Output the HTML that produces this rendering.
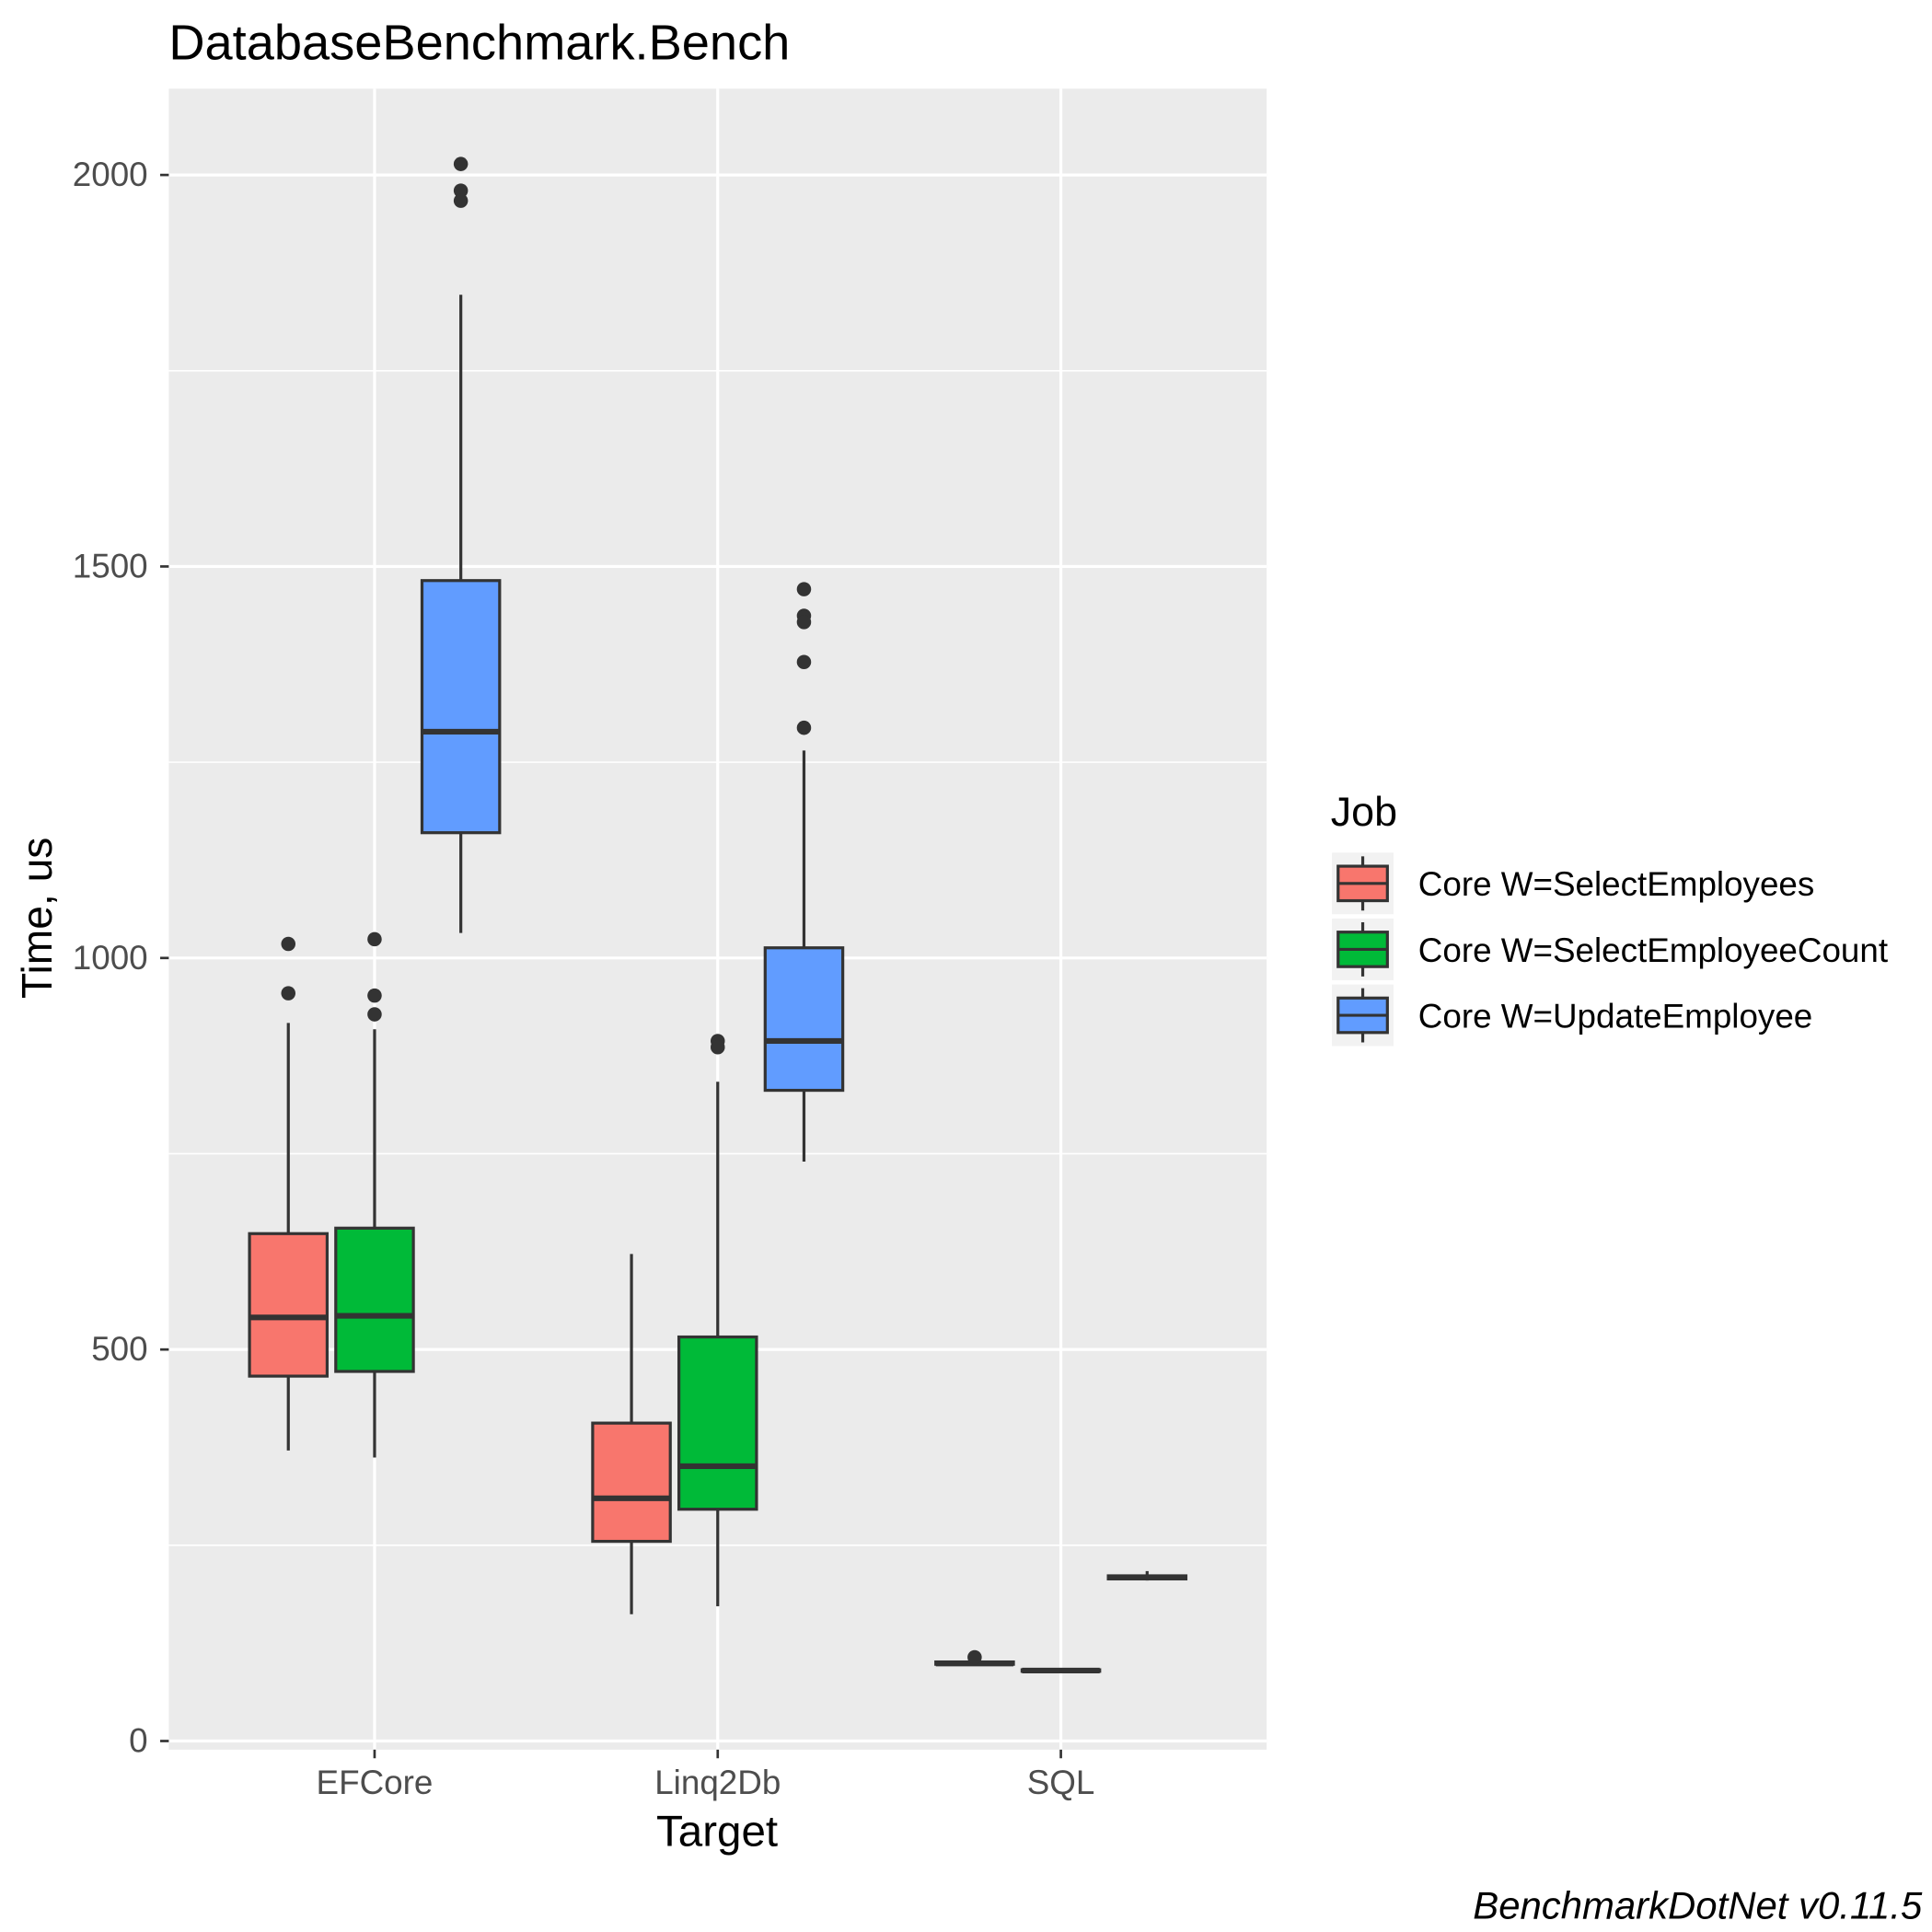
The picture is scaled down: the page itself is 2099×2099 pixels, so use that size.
<!DOCTYPE html>
<html><head><meta charset="utf-8"><style>
html,body{margin:0;padding:0;background:#fff;}
svg{display:block;font-family:"Liberation Sans",Arial,sans-serif;}
</style></head><body>
<svg id="chart" width="2099" height="2099" viewBox="0 0 1568 1568" xmlns="http://www.w3.org/2000/svg">
<rect x="0" y="0" width="1568" height="1568" fill="#fff"/>
<text x="137" y="48" font-size="40.5" fill="#000">DatabaseBenchmark.Bench</text>
<rect x="137" y="72" width="891" height="1348" fill="#EBEBEB"/>
<g id="grid"></g>
<g id="boxes"></g>
<g id="axes"></g>
<text x="582" y="1498" font-size="35.5" text-anchor="middle" fill="#000">Target</text>
<text transform="translate(42,745) rotate(-90)" font-size="34.5" text-anchor="middle" fill="#000">Time, us</text>
<g id="legend">
<text x="1080" y="670" font-size="33.5" fill="#000">Job</text>
</g>
<text x="1560" y="1557" font-size="31.3" font-style="italic" text-anchor="end" fill="#000">BenchmarkDotNet v0.11.5</text>
</svg>
<script>
const categories = ["EFCore","Linq2Db","SQL"];
const jobs = ["Core W=SelectEmployees","Core W=SelectEmployeeCount","Core W=UpdateEmployee"];
const colors = ["#F8766D","#00BA38","#619CFF"];
// [category index][job index] = [lowWhisker, q1, median, q3, highWhisker]
const stats = [
  [[371,466,541,648,917],[362,472,543,655,909],[1032,1160,1289,1482,1847]],
  [[162,255,310,406,622],[172,296,351,516,842],[740,831,894,1013,1265]],
  [[97,98,99,101,102],[88,89,90,91,92],[205,207,209,211,217]]
];
const outliers = [
  [[1018,955],[1024,952,928],[2014,1980,1967]],
  [[],[894,886],[1471,1437,1429,1378,1294]],
  [[107],[],[]]
];
const yTicks = [0,500,1000,1500,2000];
const yMinor = [250,750,1250,1750];

const NS="http://www.w3.org/2000/svg";
function el(tag,attrs,parent){const e=document.createElementNS(NS,tag);for(const k in attrs)e.setAttribute(k,attrs[k]);parent.appendChild(e);return e;}
const yScale=v=>1413-v*0.6355;
const xScale=i=>304+i*278.5;
const dodge=j=>(j-1)*70;
const halfW=31.5;
const grid=document.getElementById('grid'),boxes=document.getElementById('boxes'),axes=document.getElementById('axes'),legend=document.getElementById('legend');

yMinor.forEach(v=>{const l=el('line',{x1:137,x2:1028,y1:yScale(v),y2:yScale(v),stroke:'#fff','stroke-width':1.2},grid);

});
yTicks.forEach(v=>{const y=yScale(v);
const l=el('line',{x1:137,x2:1028,y1:y,y2:y,stroke:'#fff','stroke-width':2.4},grid);


const t=el('line',{x1:130,x2:137,y1:y,y2:y,stroke:'#333','stroke-width':2},axes);


const tx=el('text',{x:120,y:y+9,'font-size':27.5,'text-anchor':'end',fill:'#4D4D4D'},axes);tx.textContent=v;

});
categories.forEach((c,i)=>{const x=xScale(i);
const l=el('line',{x1:x,x2:x,y1:72,y2:1420,stroke:'#fff','stroke-width':2.4},grid);


const t=el('line',{x1:x,x2:x,y1:1420,y2:1427,stroke:'#333','stroke-width':2},axes);


const tx=el('text',{x:x,y:1456,'font-size':27.5,'text-anchor':'middle',fill:'#4D4D4D'},axes);tx.textContent=c;

});

stats.forEach((row,i)=>row.forEach((s,j)=>{
const cx=xScale(i)+dodge(j);
const g=el('g',{},boxes);


el('line',{x1:cx,x2:cx,y1:yScale(s[4]),y2:yScale(s[3]),stroke:'#333','stroke-width':2.4},g);
el('line',{x1:cx,x2:cx,y1:yScale(s[1]),y2:yScale(s[0]),stroke:'#333','stroke-width':2.4},g);
el('rect',{x:cx-halfW,y:yScale(s[3]),width:2*halfW,height:Math.max(1,yScale(s[1])-yScale(s[3])),fill:colors[j],stroke:'#333','stroke-width':2.4},g);
el('line',{x1:cx-halfW,x2:cx+halfW,y1:yScale(s[2]),y2:yScale(s[2]),stroke:'#333','stroke-width':4.6},g);
outliers[i][j].forEach(v=>{const p=el('circle',{cx:cx,cy:yScale(v),r:5.8,fill:'#333'},g);

});
}));

jobs.forEach((jb,j)=>{const y0=692+j*53.5;
const g=el('g',{},legend);


el('rect',{x:1081,y:y0,width:50,height:50,fill:'#F2F2F2'},g);
el('line',{x1:1106,x2:1106,y1:y0+3,y2:y0+47,stroke:'#333','stroke-width':2.4},g);
el('rect',{x:1086,y:y0+11,width:40,height:28,fill:colors[j],stroke:'#333','stroke-width':2.4},g);
el('line',{x1:1086,x2:1126,y1:y0+25,y2:y0+25,stroke:'#333','stroke-width':2.4},g);
const t=el('text',{x:1151,y:y0+35,'font-size':27.5,fill:'#000'},g);t.textContent=jb;

});
</script>
</body></html>
